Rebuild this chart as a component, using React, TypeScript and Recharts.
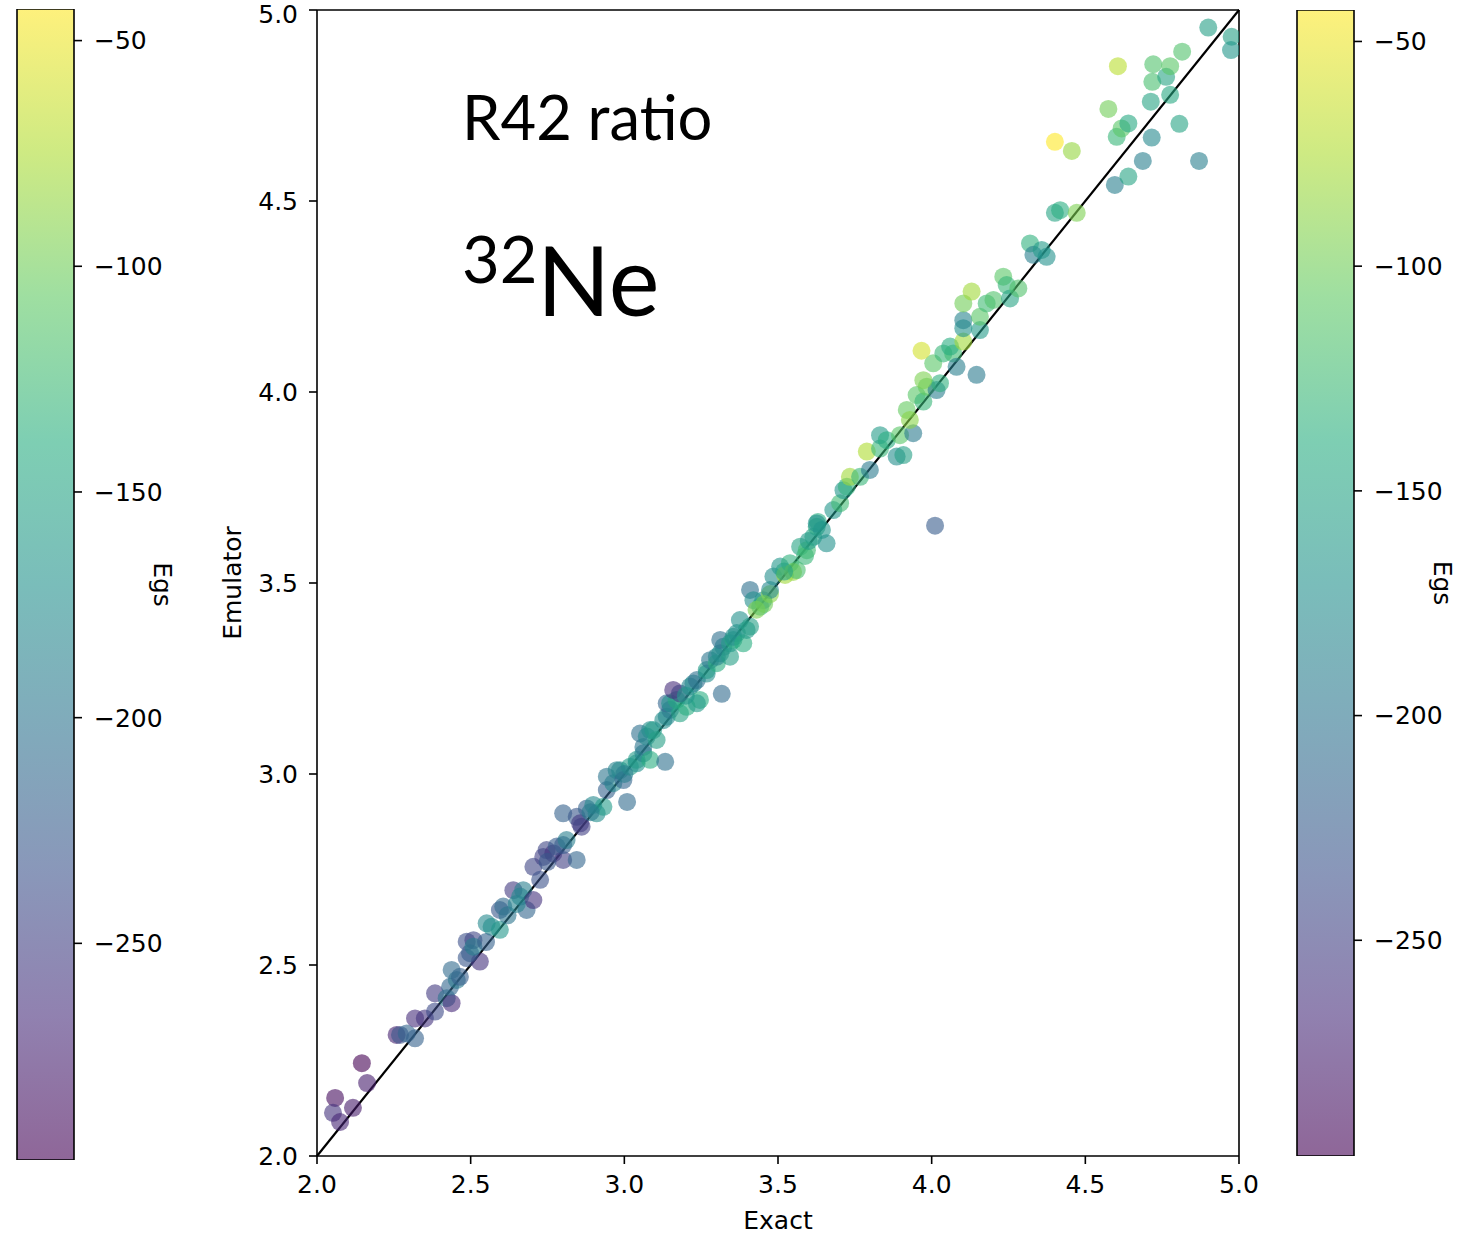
import React from "react";
import {
  ScatterChart,
  Scatter,
  XAxis,
  YAxis,
  ReferenceLine,
  BarChart,
  Bar,
} from "recharts";

// exact R42 ratio, emulator prediction and ground-state energy per sample
const exact = [
  2.059, 2.052, 2.075, 2.117, 2.146, 2.163, 2.259, 2.27, 2.292, 2.319,
  2.319, 2.351, 2.384, 2.384, 2.422, 2.438, 2.433, 2.455, 2.465, 2.438,
  2.487, 2.487, 2.509, 2.53, 2.498, 2.509, 2.552, 2.568, 2.595, 2.595,
  2.606, 2.639, 2.661, 2.671, 2.682, 2.704, 2.704, 2.726, 2.736, 2.747,
  2.769, 2.78, 2.801, 2.801, 2.812, 2.845, 2.801, 2.845, 2.856, 2.861,
  2.878, 2.899, 2.91, 2.932, 2.943, 2.964, 3.009, 2.943, 2.986, 2.975,
  2.997, 3.018, 3.04, 3.04, 3.062, 3.062, 3.051, 3.073, 3.084, 3.094,
  3.105, 3.084, 3.133, 3.127, 3.138, 3.149, 3.138, 3.149, 3.17, 3.181,
  3.203, 3.159, 3.181, 3.214, 3.225, 3.236, 3.246, 3.236, 3.268, 3.268,
  3.279, 3.301, 3.301, 3.312, 3.322, 3.312, 3.317, 3.344, 3.344, 3.355,
  3.355, 3.366, 3.376, 3.387, 3.398, 3.409, 3.409, 3.42, 3.442, 3.452,
  3.474, 3.474, 3.485, 3.507, 3.523, 3.539, 3.549, 3.561, 3.572, 3.588,
  3.594, 3.615, 3.626, 3.63, 3.626, 3.643, 3.658, 3.68, 3.702, 3.713,
  3.724, 3.734, 3.767, 3.799, 3.789, 3.832, 3.832, 3.854, 3.886, 3.908,
  3.897, 3.94, 3.919, 3.929, 3.951, 3.973, 3.984, 4.016, 4.027, 3.973,
  4.005, 3.967, 4.038, 4.07, 4.06, 4.081, 4.103, 4.146, 4.011, 4.103,
  4.103, 4.157, 4.103, 4.13, 4.157, 4.179, 4.201, 4.233, 4.244, 4.255,
  4.282, 4.32, 4.331, 4.358, 4.374, 4.401, 4.418, 4.472, 4.401, 4.456,
  4.575, 4.596, 4.602, 4.618, 4.64, 4.64, 4.606, 4.687, 4.716, 4.713,
  4.718, 4.721, 4.763, 4.776, 4.776, 4.806, 4.815, 4.87, 4.9, 4.976,
  4.974, 3.43, 3.455, 2.62, 2.65, 2.89, 3.0, 3.2, 3.52, 3.6,
  2.55, 2.75,
];

const emulator = [
  2.152, 2.113, 2.089, 2.126, 2.243, 2.191, 2.317, 2.317, 2.321, 2.308,
  2.36, 2.36, 2.426, 2.378, 2.413, 2.4, 2.443, 2.461, 2.469, 2.487,
  2.518, 2.561, 2.565, 2.509, 2.531, 2.548, 2.609, 2.6, 2.592, 2.644,
  2.653, 2.696, 2.679, 2.696, 2.644, 2.67, 2.757, 2.723, 2.783, 2.801,
  2.792, 2.81, 2.775, 2.814, 2.827, 2.775, 2.897, 2.888, 2.871, 2.862,
  2.91, 2.919, 2.897, 2.914, 2.958, 2.976, 2.927, 2.993, 3.01, 3.01,
  2.984, 3.019, 3.028, 3.037, 3.054, 3.071, 3.106, 3.098, 3.115, 3.115,
  3.089, 3.037, 3.032, 3.141, 3.15, 3.168, 3.185, 3.185, 3.194, 3.159,
  3.176, 3.22, 3.211, 3.229, 3.237, 3.246, 3.194, 3.185, 3.263, 3.272,
  3.298, 3.29, 3.307, 3.316, 3.333, 3.351, 3.21, 3.307, 3.342, 3.351,
  3.359, 3.369, 3.403, 3.342, 3.377, 3.386, 3.482, 3.455, 3.438, 3.455,
  3.471, 3.482, 3.517, 3.543, 3.521, 3.552, 3.529, 3.534, 3.595, 3.571,
  3.586, 3.621, 3.647, 3.66, 3.656, 3.639, 3.604, 3.691, 3.709, 3.743,
  3.752, 3.778, 3.778, 3.796, 3.844, 3.852, 3.887, 3.874, 3.831, 3.835,
  3.887, 3.892, 3.953, 3.927, 3.992, 3.975, 4.014, 4.005, 4.023, 4.031,
  4.075, 4.108, 4.101, 4.101, 4.119, 4.066, 4.132, 4.045, 3.65, 4.167,
  4.188, 4.162, 4.232, 4.263, 4.197, 4.232, 4.241, 4.302, 4.28, 4.245,
  4.271, 4.389, 4.359, 4.372, 4.354, 4.469, 4.476, 4.469, 4.655, 4.631,
  4.741, 4.542, 4.668, 4.69, 4.703, 4.564, 4.853, 4.605, 4.666, 4.76,
  4.812, 4.858, 4.825, 4.853, 4.778, 4.702, 4.891, 4.605, 4.954, 4.93,
  4.895, 3.43, 3.445, 2.63, 2.66, 2.9, 3.0, 3.205, 3.53, 3.61,
  2.56, 2.77,
];

const egs = [
  -290, -262, -272, -280, -298, -278, -275, -232, -215, -220,
  -265, -260, -255, -240, -200, -268, -215, -195, -222, -210,
  -230, -236, -246, -262, -225, -190, -180, -175, -165, -230,
  -210, -255, -180, -190, -215, -262, -245, -235, -250, -245,
  -260, -225, -250, -225, -190, -215, -220, -230, -256, -250,
  -220, -180, -175, -160, -220, -180, -210, -200, -175, -185,
  -215, -160, -170, -160, -185, -200, -205, -180, -175, -160,
  -155, -140, -205, -175, -180, -195, -215, -170, -145, -150,
  -140, -265, -250, -185, -180, -205, -140, -160, -175, -160,
  -200, -140, -185, -175, -180, -205, -210, -155, -160, -145,
  -175, -170, -170, -140, -160, -155, -205, -175, -135, -170,
  -90, -180, -175, -165, -80, -135, -85, -120, -150, -130,
  -125, -150, -145, -140, -170, -165, -170, -165, -125, -165,
  -135, -80, -130, -195, -75, -130, -160, -140, -175, -155,
  -110, -195, -105, -90, -110, -130, -105, -190, -135, -95,
  -110, -60, -130, -125, -140, -190, -80, -195, -225, -170,
  -185, -160, -100, -80, -110, -125, -115, -110, -130, -150,
  -115, -135, -190, -160, -170, -150, -140, -95, -43, -85,
  -100, -190, -130, -110, -145, -150, -70, -190, -180, -150,
  -120, -115, -150, -110, -145, -150, -115, -190, -155, -155,
  -165, -95, -100, -200, -185, -195, -190, -165, -150, -160,
  -220, -230,
];

const axisTicks = [2, 2.5, 3, 3.5, 4, 4.5, 5];
const egsTicks = [-250, -200, -150, -100, -50];

const cMin = Math.min(...egs);
const cMax = Math.max(...egs);

// viridis colormap stops
const VIRIDIS = [
  "#440154", "#472d7b", "#3b528b", "#2c728e", "#21918c",
  "#28ae80", "#5ec962", "#addc30", "#fde725",
];

function hexToRgb(h: string) {
  return [1, 3, 5].map((i) => parseInt(h.slice(i, i + 2), 16));
}

function viridis(t: number) {
  const c = Math.max(0, Math.min(1, t));
  const s = c * (VIRIDIS.length - 1);
  const i = Math.min(Math.floor(s), VIRIDIS.length - 2);
  const f = s - i;
  const a = hexToRgb(VIRIDIS[i]);
  const b = hexToRgb(VIRIDIS[i + 1]);
  const rgb = a.map((v, k) => Math.round(v + (b[k] - v) * f));
  return `rgb(${rgb[0]},${rgb[1]},${rgb[2]})`;
}

const points = exact.map((x, i) => ({ x, y: emulator[i], egs: egs[i] }));

const ALPHA = 0.6;
const FONT = 25;
const tickStyle = { fill: "#000", fontSize: FONT, fontFamily: "DejaVu Sans" };
const minus = (v: number) => String(v).replace("-", "\u2212");

function EgsLabel(props: any) {
  const vb = props.viewBox;
  const x = vb.x + 80;
  const y = vb.y + vb.height / 2;
  return (
    <text
      x={x}
      y={y}
      transform={`rotate(90 ${x} ${y})`}
      textAnchor="middle"
      fontSize={FONT}
      fontFamily="DejaVu Sans"
      fill="#000"
    >
      Egs
    </text>
  );
}

function ColorBar({
  id,
  left,
  width,
  marginLeft,
  top,
  bottom,
}: {
  id: string;
  left: number;
  width: number;
  marginLeft: number;
  top: number;
  bottom: number;
}) {
  const data = [{ name: "Egs", range: [cMin, cMax] }];
  const barW = 57;
  return (
    <div style={{ position: "absolute", left, top: 0 }}>
      <BarChart
        width={width}
        height={1237}
        data={data}
        barCategoryGap={0}
        margin={{ top, bottom, left: marginLeft, right: width - marginLeft - barW - 100 }}
      >
        <defs>
          <linearGradient id={id} x1="0" y1="1" x2="0" y2="0">
            {VIRIDIS.map((c, i) => (
              <stop
                key={c}
                offset={i / (VIRIDIS.length - 1)}
                stopColor={c}
                stopOpacity={ALPHA}
              />
            ))}
          </linearGradient>
        </defs>
        <XAxis dataKey="name" hide />
        <YAxis
          type="number"
          orientation="right"
          domain={[cMin, cMax]}
          ticks={egsTicks}
          allowDataOverflow
          width={100}
          axisLine={false}
          tickLine={{ stroke: "#000", strokeWidth: 1.6 }}
          tickSize={8}
          tickMargin={12}
          tick={tickStyle}
          tickFormatter={minus}
          label={{ content: EgsLabel }}
        />
        <Bar
          dataKey="range"
          fill={`url(#${id})`}
          stroke="#000"
          strokeWidth={1.6}
          isAnimationActive={false}
        />
      </BarChart>
    </div>
  );
}

function Dot(props: any) {
  const t = (props.payload.egs - cMin) / (cMax - cMin);
  return (
    <circle cx={props.cx} cy={props.cy} r={9} fill={viridis(t)} fillOpacity={ALPHA} />
  );
}

export default function App() {
  return (
    <div
      style={{
        position: "absolute",
        left: 0,
        top: 0,
        width: 1479,
        height: 1237,
        background: "#fff",
      }}
    >
      <ColorBar id="cbarL" left={0} width={200} marginLeft={17} top={9} bottom={77} />
      <ColorBar id="cbarR" left={1260} width={219} marginLeft={37} top={10} bottom={81} />

      <div style={{ position: "absolute", left: 200, top: 0 }}>
        <ScatterChart
          width={1060}
          height={1237}
          margin={{ top: 10, right: 21, bottom: 1, left: 57 }}
        >
          <XAxis
            type="number"
            dataKey="x"
            domain={[2, 5]}
            ticks={axisTicks}
            allowDataOverflow
            height={80}
            stroke="#000"
            strokeWidth={1.6}
            tickSize={8}
            tickMargin={11}
            tick={tickStyle}
            tickFormatter={(v: number) => v.toFixed(1)}
            label={{
              content: (p: any) => (
                <text
                  x={p.viewBox.x + p.viewBox.width / 2}
                  y={p.viewBox.y + 73}
                  textAnchor="middle"
                  fontSize={FONT}
                  fontFamily="DejaVu Sans"
                  fill="#000"
                >
                  Exact
                </text>
              ),
            }}
          />
          <YAxis
            type="number"
            dataKey="y"
            domain={[2, 5]}
            ticks={axisTicks}
            allowDataOverflow
            width={60}
            stroke="#000"
            strokeWidth={1.6}
            tickSize={8}
            tickMargin={11}
            tick={tickStyle}
            tickFormatter={(v: number) => v.toFixed(1)}
            label={{
              content: (p: any) => {
                const x = p.viewBox.x - 16;
                const y = p.viewBox.y + p.viewBox.height / 2;
                return (
                  <text
                    x={x}
                    y={y}
                    transform={`rotate(-90 ${x} ${y})`}
                    textAnchor="middle"
                    fontSize={FONT}
                    fontFamily="DejaVu Sans"
                    fill="#000"
                  >
                    Emulator
                  </text>
                );
              },
            }}
          />
          <Scatter data={points} shape={Dot} isAnimationActive={false} />
          <ReferenceLine
            segment={[
              { x: 2, y: 2 },
              { x: 5, y: 5 },
            ]}
            stroke="#000"
            strokeWidth={2.2}
          />
          <ReferenceLine y={5} stroke="#000" strokeWidth={1.6} />
          <ReferenceLine x={5} stroke="#000" strokeWidth={1.6} />
        </ScatterChart>
      </div>

      <svg
        width={1479}
        height={1237}
        style={{ position: "absolute", left: 0, top: 0, pointerEvents: "none" }}
      >
        <text x={462} y={140} fontSize={61.5} fontFamily="Lato" fill="#000">
          R42 ratio
        </text>
        <text x={462} y={283} fontSize={65} fontFamily="Lato" fill="#000">
          32
        </text>
        <text x={537} y={316} fontSize={96} fontFamily="Lato" fill="#000">
          Ne
        </text>
      </svg>
    </div>
  );
}
